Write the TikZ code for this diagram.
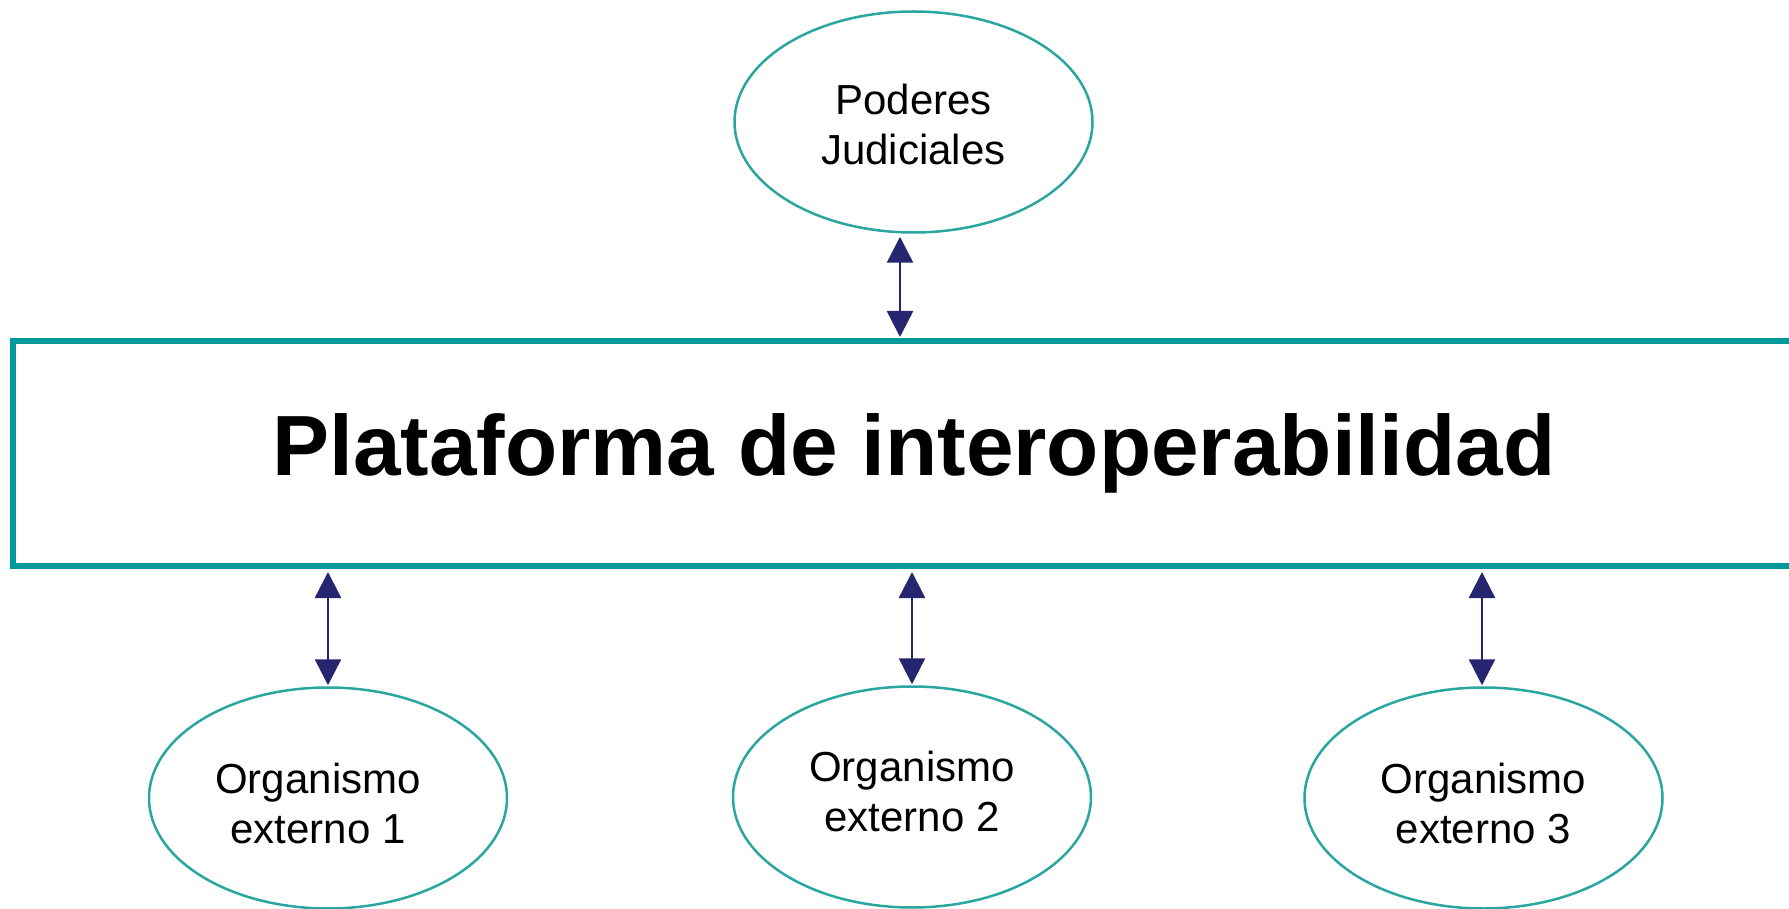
\documentclass[tikz,border=0pt]{standalone}
\usepackage{fontspec}
\setmainfont{Liberation Sans}
\usetikzlibrary{shapes.geometric,arrows.meta}
\definecolor{boxteal}{RGB}{0,153,153}
\definecolor{elteal}{RGB}{42,166,160}
\definecolor{arrnavy}{RGB}{38,38,112}
\tikzset{
  ellnode/.style={ellipse, draw=elteal, line width=2.5pt, minimum width=358pt, minimum height=221pt, inner sep=0pt, align=center, text depth=0pt, font=\fontsize{42}{50}\selectfont},
  platbox/.style={rectangle, draw=boxteal, line width=6pt, minimum width=1802pt, minimum height=225pt, inner sep=0pt, font=\fontsize{85.5}{100}\selectfont\bfseries},
  biarrow/.style={draw=arrnavy, line width=2.5pt, {Triangle[width=26pt,length=26pt]}-{Triangle[width=26pt,length=26pt]}, shorten <=3pt, shorten >=1pt}
}
\begin{document}
\begin{tikzpicture}[x=1pt,y=-1pt]
\useasboundingbox (0,0) rectangle (1789,909);
\clip (0,0) rectangle (1789,909);
\node[platbox] (plat) at (914,453.5) {Plataforma de interoperabilidad};
\node[ellnode, text height=86pt] (pj) at (913.5,122) {Poderes\\Judiciales};
\node[ellnode, text height=90pt] (o1) at (328,798) {Organismo\hspace*{20pt}\\externo 1\hspace*{20pt}};
\node[ellnode, text height=68pt] (o2) at (912,797) {Organismo\\externo 2};
\node[ellnode, text height=90pt] (o3) at (1483.5,798) {Organismo\\externo 3};
\draw[biarrow] ([xshift=-13.5pt]pj.south) -- ([xshift=-13.5pt]pj.south |- plat.north);
\draw[biarrow] (o1.north |- plat.south) -- (o1.north);
\draw[biarrow] (o2.north |- plat.south) -- (o2.north);
\draw[biarrow] ([xshift=-1.5pt]o3.north |- plat.south) -- ([xshift=-1.5pt]o3.north);
\end{tikzpicture}
\end{document}
